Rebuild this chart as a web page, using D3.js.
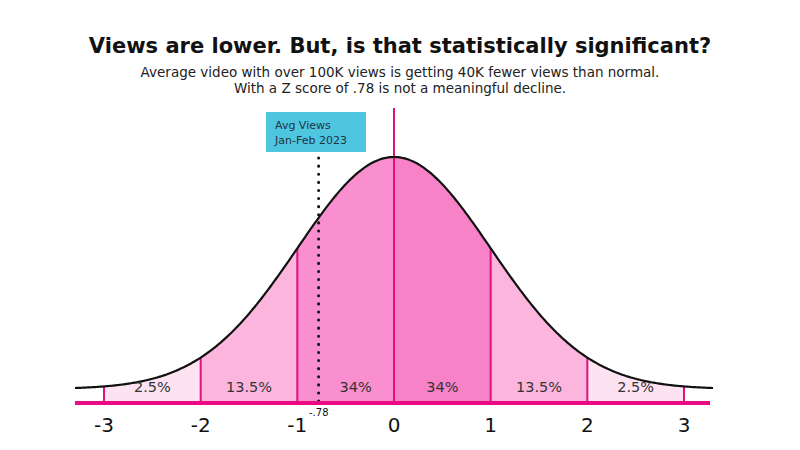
<!DOCTYPE html>
<html>
<head>
<style>
  body { margin: 0; background: #fff; }
  text { font-family: "DejaVu Sans", sans-serif; }
</style>
</head>
<body>
<svg id="chart" width="800" height="450"></svg>
<script src="https://d3js.org/d3.v7.min.js"></script>
<script>
  // Standard deviation bands and their share of the distribution
  const zTicks = [-3, -2, -1, 0, 1, 2, 3]
  const bandEdges = [[-3, -2], [-2, -1], [-1, 0], [0, 1], [1, 2], [2, 3]]
  const bandLabels = ['2.5%', '13.5%', '34%', '34%', '13.5%', '2.5%']
  const bandColors = ['#fde3f1', '#fcb6de', '#fa8fcf', '#f882c8', '#fcb6de', '#fde3f1']
  const zScore = -0.78
  const zLabel = '-.78'

  const svg = d3.select('#chart')

  const x = d3.scaleLinear().domain([-3, 3]).range([104, 684])
  const y = d3.scaleLinear().domain([0, 0.3989]).range([389, 157])
  const axisY = 403

  // normal density
  const pdf = z => Math.exp(-z * z / 2) / Math.sqrt(2 * Math.PI)
  const curvePts = d3.range(-3.3, 3.3001, 0.02).map(z => [z, pdf(z)])

  // filled bands
  bandEdges.forEach(([a, b], i) => {
    const pts = d3.range(a, b + 0.0001, 0.02).map(z => [z, pdf(z)])
    const area = d3.area().x(d => x(d[0])).y0(axisY).y1(d => y(d[1]))
    svg.append('path').attr('d', area(pts)).attr('fill', bandColors[i])
  })

  // band dividers
  zTicks.forEach(z => {
    svg.append('line')
      .attr('x1', x(z)).attr('x2', x(z))
      .attr('y1', axisY).attr('y2', z === 0 ? 108 : y(pdf(z)))
      .attr('stroke', '#e0107e').attr('stroke-width', 2)
  })

  // the curve
  svg.append('path')
    .attr('d', d3.line().x(d => x(d[0])).y(d => y(d[1])).curve(d3.curveBasis)(curvePts))
    .attr('fill', 'none').attr('stroke', '#111').attr('stroke-width', 2.2)

  // band labels
  bandEdges.forEach(([a, b], i) => {
    svg.append('text')
      .attr('x', x((a + b) / 2) + (i === 2 ? 10 : 0)).attr('y', 392)
      .attr('text-anchor', 'middle').attr('font-size', 14.5).attr('fill', '#333')
      .text(bandLabels[i])
  })

  // z score marker
  svg.append('line')
    .attr('x1', x(zScore)).attr('x2', x(zScore))
    .attr('y1', 158).attr('y2', axisY)
    .attr('stroke', '#111').attr('stroke-width', 3)
    .attr('stroke-dasharray', '0.1 8').attr('stroke-linecap', 'round')

  svg.append('rect')
    .attr('x', 266).attr('y', 112).attr('width', 100).attr('height', 40)
    .attr('fill', '#4fc6df')
  svg.append('text').attr('x', 275).attr('y', 129).attr('font-size', 11).attr('fill', '#234').text('Avg Views')
  svg.append('text').attr('x', 275).attr('y', 144).attr('font-size', 11).attr('fill', '#234').text('Jan-Feb 2023')

  // axis
  svg.append('line')
    .attr('x1', 75).attr('x2', 710).attr('y1', axisY).attr('y2', axisY)
    .attr('stroke', '#ec0a84').attr('stroke-width', 4)
  svg.selectAll('.tick').data(zTicks).enter().append('text')
    .attr('x', d => x(d)).attr('y', 432)
    .attr('text-anchor', 'middle').attr('font-size', 20).attr('fill', '#111')
    .text(d => d)
  svg.append('text').attr('x', 309).attr('y', 416)
    .attr('font-size', 10).attr('fill', '#111').text(zLabel)

  // titles
  svg.append('text').attr('x', 400).attr('y', 53).attr('text-anchor', 'middle')
    .attr('font-size', 21).attr('font-weight', 'bold').attr('fill', '#111')
    .text('Views are lower. But, is that statistically significant?')
  svg.append('text').attr('x', 400).attr('y', 77).attr('text-anchor', 'middle')
    .attr('font-size', 13.5).attr('fill', '#222')
    .text('Average video with over 100K views is getting 40K fewer views than normal.')
  svg.append('text').attr('x', 400).attr('y', 93).attr('text-anchor', 'middle')
    .attr('font-size', 13.5).attr('fill', '#222')
    .text('With a Z score of .78 is not a meaningful decline.')
</script>
</body>
</html>
